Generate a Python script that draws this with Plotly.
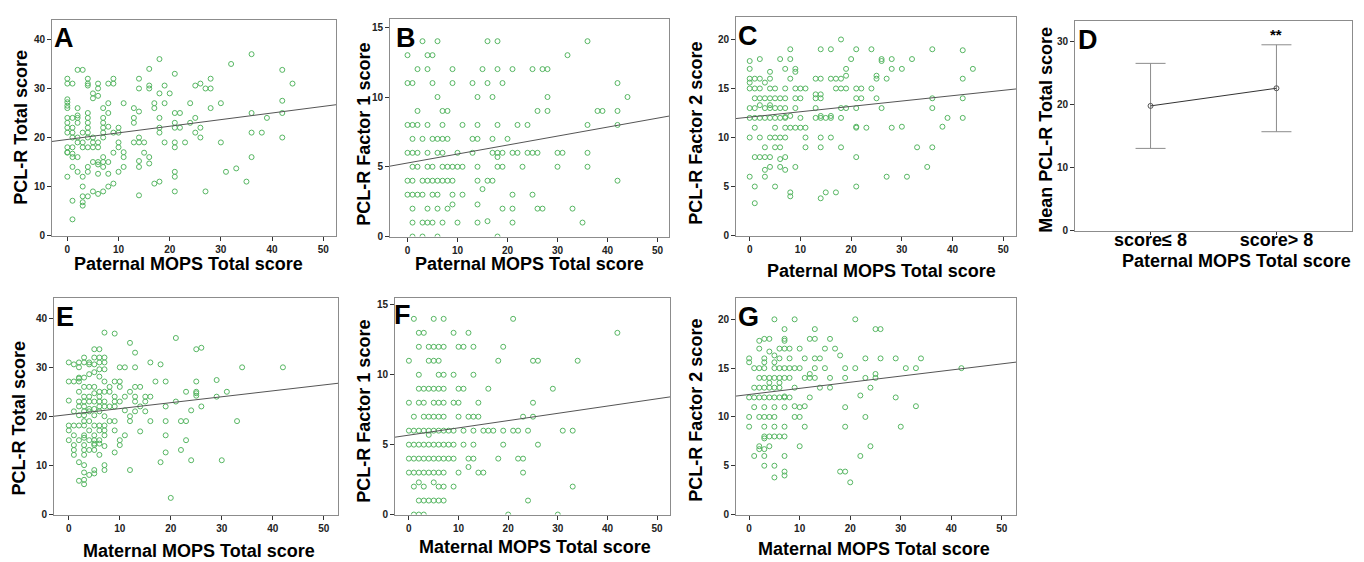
import plotly.graph_objects as go

W, H = 1364, 562
FONT = "Liberation Sans, Arial, sans-serif"

# ---------------- data ----------------
# Each panel: list of (x value, [y values at that x])
A_cols = [
    (0, [32, 31, 27.8, 27.2, 26.5, 26, 24, 23, 22, 21, 18, 17, 16.9, 12]),
    (1, [31, 24, 22, 21, 20, 18, 16.7, 16, 14, 7.1, 3.3]),
    (2, [33.8, 26, 24.5, 24, 23, 20, 19, 16, 13]),
    (3, [33.8, 21, 19, 18, 12, 10, 8, 6.8, 6.1]),
    (4, [32, 31, 30.6, 25, 24, 23, 22, 21, 20, 18, 14, 13, 8]),
    (5, [29, 28, 20, 19, 18, 15, 9]),
    (6, [31, 30, 28.5, 19, 18, 15, 14.5, 12.6, 8.5]),
    (7, [26, 24, 23, 22, 21, 20, 16, 15, 14, 9]),
    (8, [31, 27, 25, 22.2, 15, 12.6, 10]),
    (9, [32, 31, 21, 16.9, 10.6]),
    (10, [22, 21, 19, 18, 13]),
    (11, [27, 17, 16, 14]),
    (13, [26, 24, 23, 19]),
    (14, [32, 30, 25.3, 20, 19, 15.2, 14, 8.2]),
    (15, [19, 16.9]),
    (16, [34, 30.6, 30, 16, 14.7]),
    (17, [27, 26, 10.6]),
    (18, [36, 29, 24, 22, 21, 11]),
    (19, [30.6, 27, 19]),
    (20, [29]),
    (21, [33, 25, 23, 22, 19, 18, 13, 12, 9]),
    (22, [25, 22]),
    (23, [19]),
    (24, [27, 23]),
    (25, [30.6, 24, 21]),
    (26, [31, 22, 20]),
    (27, [30, 9]),
    (28, [32, 30, 26]),
    (30, [27, 19]),
    (31, [13]),
    (32, [35]),
    (33, [13.7]),
    (35, [11]),
    (36, [37, 25, 21, 16]),
    (38, [21]),
    (39, [24]),
    (42, [33.8, 27.5, 25, 20]),
    (44, [31]),
]

B_cols = [
    (0, [13, 11, 8, 6, 4, 3]),
    (1, [11, 8, 7, 6, 5, 4, 3, 2, 1, 0]),
    (2, [12, 9, 8, 6, 5, 3]),
    (3, [14, 7, 4, 3, 1, 0]),
    (4, [13, 12, 8, 6, 5, 4, 2, 1]),
    (5, [13, 11, 7, 5, 4, 3, 1]),
    (6, [14, 10, 7, 6, 4, 3, 2, 0]),
    (7, [9, 8, 7, 6, 5, 4, 1]),
    (8, [9, 7, 5, 4, 2]),
    (9, [12, 11, 5, 4, 3, 2.3]),
    (10, [6, 5, 1]),
    (11, [8, 5, 3]),
    (13, [11, 7, 6]),
    (14, [10, 8, 7, 5, 4, 2.3, 1]),
    (15, [12, 3.4]),
    (16, [14, 11, 4, 1.1]),
    (17, [10, 7, 6, 4]),
    (18, [14, 12, 8, 6, 5.7, 5, 0]),
    (19, [11, 6, 5, 2]),
    (20, [7]),
    (21, [12, 6, 3, 2, 1]),
    (22, [8, 6]),
    (23, [5]),
    (24, [8, 6]),
    (25, [12, 6, 3]),
    (26, [9, 6, 2]),
    (27, [12, 2]),
    (28, [12, 10, 9]),
    (30, [6, 5]),
    (31, [6]),
    (32, [13]),
    (33, [2]),
    (35, [1]),
    (36, [14, 8, 6, 5]),
    (38, [9]),
    (39, [9]),
    (42, [11, 9, 8, 4]),
    (44, [10]),
]

C_cols = [
    (0, [17.8, 17, 16, 15.6, 15, 13, 12, 10, 6]),
    (1, [16, 15, 14, 13, 12, 11, 8, 5, 3.3]),
    (2, [18, 16, 15, 14, 13.3, 12, 10, 8]),
    (3, [15.6, 14, 13, 12, 9, 8, 6.7, 6]),
    (4, [16.7, 16, 15, 14, 13.3, 13, 12, 10, 8, 7]),
    (5, [15, 14, 13, 12, 11, 10, 9, 5]),
    (6, [18, 14, 13, 12, 10, 9, 7.8, 7]),
    (7, [17, 15, 14, 13, 12.1, 12, 11, 10, 8, 6.7]),
    (8, [19, 18, 16, 12.2, 11, 4.4, 4]),
    (9, [17, 16.7, 15, 14, 13, 11, 7]),
    (10, [15, 14, 12, 11]),
    (11, [15, 11, 10, 9]),
    (13, [16, 14.4, 14, 13, 12]),
    (14, [19, 16, 14.4, 14, 12.2, 12, 10, 9, 3.8]),
    (15, [12, 4.4]),
    (16, [19, 16, 12.2, 12, 10]),
    (17, [16, 15, 4.4]),
    (18, [20, 16, 15, 13, 12, 9]),
    (19, [17, 16.3, 15, 13]),
    (20, [18]),
    (21, [19, 15, 14, 13, 11.1, 11, 8, 5]),
    (22, [15, 14]),
    (23, [11]),
    (24, [19, 15]),
    (25, [16.3, 16, 14]),
    (26, [18, 17.8, 13]),
    (27, [16, 6]),
    (28, [18, 17, 11]),
    (30, [17, 11.1]),
    (31, [6]),
    (32, [18]),
    (33, [9]),
    (35, [7]),
    (36, [19, 14, 13, 9]),
    (38, [11.1]),
    (39, [12]),
    (42, [18.9, 16, 14, 12]),
    (44, [17]),
]

D_groups = ["score\u2264 8", "score> 8"]
D_means = [19.8, 22.6]
D_err = [6.75, 6.9]

E_cols = [
    (0, [31.1, 27.2, 23.3, 18.2, 17.2, 15.2]),
    (1, [30.7, 27.2, 21.1, 18.2, 16.2, 14.2, 13.2, 12.2]),
    (2, [31.1, 30.1, 28, 27.8, 27.2, 25.1, 23.1, 22.1, 20.3, 18.2, 15.2, 10.7, 6.9]),
    (3, [32.1, 31.1, 28, 26.1, 24.1, 23.1, 22.1, 21.1, 20.3, 19.1, 18.2, 16.2, 15.7,
         14.2, 13.2, 12.2, 10.1, 8.6, 7.1, 6.2]),
    (4, [31.1, 30.7, 28.7, 26.1, 24.1, 23.1, 21.6, 21.1, 19.1, 17.2, 15.2, 13.2, 8.1]),
    (5, [33.8, 32.1, 30.7, 29.1, 26.1, 24.8, 23.1, 21.6, 20.3, 18.2, 16.2, 15.2, 14.5,
         14.2, 13.2, 9.1, 8.4]),
    (6, [33.8, 32.1, 31.1, 29.7, 28.2, 25.1, 24.1, 23.1, 22.1, 21.1, 18.2, 17.2, 15.2,
         14.5, 12.2]),
    (7, [37.2, 32.1, 31.1, 29.7, 27.2, 25.1, 23.1, 22.1, 20.1, 18.2, 17.2, 16.2, 14,
         10.1, 9.1]),
    (8, [26.1, 25.1, 22.1, 19.1]),
    (9, [37, 27.2, 24.1, 23.1, 22.1, 19.1, 17.2, 12.7]),
    (10, [30.1, 27.2, 26.1, 23.1, 15.2, 14.2]),
    (11, [30.1, 24.1, 21.3, 16.2]),
    (12, [35.1, 25.1, 20.1, 19.1, 9.1]),
    (13, [33.1, 30.1, 26.1, 24.1, 23.1, 21.1]),
    (14, [26.1, 22.1, 17]),
    (15, [24.1, 23.1, 21.1]),
    (16, [31.1, 24.1, 19.1]),
    (17, [27.2]),
    (18, [30.7, 10.7]),
    (19, [27.2, 22.1, 19.1, 16.2, 12.7]),
    (20, [3.4]),
    (21, [36.1, 23.1]),
    (22, [19.1, 13.2]),
    (23, [25.1, 19.1, 15.2]),
    (24, [21.3, 11.1]),
    (25, [33.8, 27.2, 25.1, 24.8, 24.3]),
    (26, [34.1, 22.1]),
    (29, [27.5, 24.1]),
    (30, [11.1]),
    (31, [25.1]),
    (33, [19.1]),
    (34, [30.1]),
    (42, [30.1]),
]

F_cols = [
    (0, [11, 8, 6, 5, 4, 3]),
    (1, [14, 7, 6, 5, 4, 3, 2, 0]),
    (2, [13, 12, 10, 9, 8, 6, 5, 4, 3, 2.3, 1, 0]),
    (3, [13, 9, 8, 7, 6, 5, 4, 3, 2, 1, 0]),
    (4, [12, 11, 9, 7, 6, 5.7, 5, 4, 3, 1]),
    (5, [14, 12, 11, 9, 8, 7, 6, 5, 4, 3, 2.3, 1]),
    (6, [12, 11, 10, 9, 8, 7, 6, 5, 4, 3, 2, 1]),
    (7, [14, 12, 10, 9, 8, 7, 6, 5, 4, 3, 2, 1]),
    (8, [6, 5, 4]),
    (9, [13, 10, 8, 6, 5, 4, 2]),
    (10, [12, 9, 8, 7, 3]),
    (11, [12, 9, 6, 5]),
    (12, [13, 7, 4, 3.4]),
    (13, [12, 10, 7, 6, 5, 4]),
    (14, [8, 7, 3]),
    (15, [6, 3]),
    (16, [9, 6]),
    (17, [6]),
    (18, [11, 4]),
    (19, [12, 6, 5]),
    (20, [0]),
    (21, [14, 6]),
    (22, [6, 4]),
    (23, [7, 4, 3]),
    (24, [6, 1]),
    (25, [11, 8, 7]),
    (26, [11, 5]),
    (29, [9]),
    (30, [0]),
    (31, [6]),
    (33, [6, 2]),
    (34, [11]),
    (42, [13]),
]

G_cols = [
    (0, [16, 15.6, 12, 10, 9]),
    (1, [15, 13, 12, 11, 6]),
    (2, [17.8, 17, 15, 14, 13, 12, 10, 7, 6.7]),
    (3, [18, 16, 15.6, 15, 14, 13, 12, 11, 10, 9, 8, 7.8, 6.7, 6, 5]),
    (4, [18, 16.7, 14, 13.5, 13, 12, 10, 8, 7]),
    (5, [20, 16.3, 15.6, 15, 14, 13, 12, 11, 10, 9, 8, 5, 3.8]),
    (6, [17, 16, 15, 14, 13.5, 13, 12, 8]),
    (7, [19, 18, 17.8, 17, 15, 14, 12.1, 12, 11, 9, 8, 6, 4.4, 4]),
    (8, [17, 16, 15, 14, 12]),
    (9, [20, 15, 13, 11.1, 10]),
    (10, [17, 15, 11, 10, 7]),
    (11, [16, 14, 11.1, 9]),
    (12, [18, 14.4, 14, 12]),
    (13, [19, 18, 16, 15, 14]),
    (14, [16, 13]),
    (15, [17, 15]),
    (16, [18, 14, 13]),
    (17, [17]),
    (18, [16.3, 4.4]),
    (19, [15, 14, 11, 9, 4.4]),
    (20, [3.3]),
    (21, [20, 15]),
    (22, [12.2, 6]),
    (23, [16, 14, 10]),
    (24, [13, 7]),
    (25, [19, 14.4, 14]),
    (26, [19, 16]),
    (29, [16, 12]),
    (30, [9]),
    (31, [15]),
    (33, [15, 11.1]),
    (34, [16]),
    (42, [15]),
]

# regression lines (intercept, slope)
A_fit = (19.6, 0.135)
B_fit = (5.27, 0.0643)
C_fit = (12.08, 0.0547)
E_fit = (20.45, 0.121)
F_fit = (5.68, 0.052)
G_fit = (12.3, 0.0628)

X_TICKS = [0, 10, 20, 30, 40, 50]


# ---------------- helpers ----------------
def px(x):
    return x / W


def py(y):
    return 1 - y / H


def expand(cols):
    xs, ys = [], []
    for xv, yl in cols:
        for yv in yl:
            xs.append(xv)
            ys.append(yv)
    return xs, ys


axis_common = dict(
    showline=True, mirror=True, linecolor="#8c8c8c", linewidth=1,
    ticks="outside", ticklen=4, tickwidth=1, tickcolor="#333333",
    showgrid=False, zeroline=False, fixedrange=True,
    tickfont=dict(family=FONT, size=10, color="#222222", weight="bold"),
)

fig = go.Figure()
annotations = []
layout_axes = {}

# offsets that turn "visual" text centres into annotation box centres
TY = -3   # horizontal titles: move up
TX = -3   # vertical titles: move left
LX, LY = -8, -5  # panel letters

panels = [
    (1, A_cols, A_fit, (44, 328), (12, 230), [-3, 52.5], [0, 44], [0, 10, 20, 30, 40],
     "Paternal MOPS Total score", (180, 262), "PCL-R Total score", (16, 121), "A", (52, 35)),
    (2, B_cols, B_fit, (382, 661), (11, 231), [-3.5, 52.3], [0, 15.6], [0, 5, 10, 15],
     "Paternal MOPS Total score", (521, 262), "PCL-R Factor 1 score", (359, 128), "B", (394, 35)),
    (3, C_cols, C_fit, (728, 1008), (9, 230), [-2.7, 52.5], [0, 22.3], [0, 5, 10, 15, 20],
     "Paternal MOPS Total score", (873, 269), "PCL-R Factor 2 score", (691, 127), "C", (736, 33)),
    (5, E_cols, E_fit, (46, 330), (293, 512), [-2.9, 52.8], [0, 44.3], [0, 10, 20, 30, 40],
     "Maternal MOPS Total score", (191, 552), "PCL-R Total score", (14, 415), "E", (54, 317)),
    (6, F_cols, F_fit, (387, 662), (293, 512), [-2.8, 52.6], [0, 15.5], [0, 5, 10, 15],
     "Maternal MOPS Total score", (527, 548), "PCL-R Factor 1 score", (359, 408), "F", (392, 315)),
    (7, G_cols, G_fit, (728, 1008), (293, 512), [-2.6, 52.8], [0, 22.2], [0, 5, 10, 15, 20],
     "Maternal MOPS Total score", (866, 550), "PCL-R Factor 2 score", (691, 407), "G", (736, 317)),
]


def add_labels(xtitle, xpos, ytitle, ypos, letter, lpos):
    annotations.append(dict(
        text="<b>%s</b>" % xtitle, x=px(xpos[0]), y=py(xpos[1] + TY), xref="paper", yref="paper",
        xanchor="center", yanchor="middle", showarrow=False,
        font=dict(family=FONT, size=18, color="#000000")))
    annotations.append(dict(
        text="<b>%s</b>" % ytitle, x=px(ypos[0] + TX), y=py(ypos[1]), xref="paper", yref="paper",
        xanchor="center", yanchor="middle", showarrow=False, textangle=-90,
        font=dict(family=FONT, size=18, color="#000000")))
    annotations.append(dict(
        text="<b>%s</b>" % letter, x=px(lpos[0] + LX), y=py(lpos[1] + LY), xref="paper", yref="paper",
        xanchor="left", yanchor="middle", showarrow=False,
        font=dict(family=FONT, size=27, color="#000000")))


for (pid, cols, fit, xd, yd, xr, yr, yt, xtitle, xpos, ytitle, ypos, letter, lpos) in panels:
    xa = "x" if pid == 1 else "x%d" % pid
    ya = "y" if pid == 1 else "y%d" % pid
    xs, ys = expand(cols)
    fig.add_trace(go.Scatter(
        x=xs, y=ys, mode="markers", xaxis=xa, yaxis=ya, showlegend=False,
        marker=dict(symbol="circle-open", size=5, color="#56b662", line=dict(width=1)),
        hoverinfo="x+y"))
    a, b = fit
    fig.add_trace(go.Scatter(
        x=[xr[0], xr[1]], y=[a + b * xr[0], a + b * xr[1]], mode="lines",
        xaxis=xa, yaxis=ya, showlegend=False,
        line=dict(color="#555555", width=1), hoverinfo="skip"))
    key = "" if pid == 1 else str(pid)
    layout_axes["xaxis" + key] = dict(
        axis_common, domain=[px(xd[0]), px(xd[1])], range=xr, anchor=ya,
        tickmode="array", tickvals=X_TICKS)
    layout_axes["yaxis" + key] = dict(
        axis_common, domain=[py(yd[1]), py(yd[0])], range=yr, anchor=xa,
        tickmode="array", tickvals=yt)
    add_labels(xtitle, xpos, ytitle, ypos, letter, lpos)

# Panel D: means with error bars
fig.add_trace(go.Scatter(
    x=[0, 1], y=D_means, mode="lines+markers", xaxis="x4", yaxis="y4", showlegend=False,
    line=dict(color="#333333", width=1),
    marker=dict(symbol="circle-open", size=5, color="#555555", line=dict(width=1)),
    error_y=dict(type="data", array=D_err, color="#8c8c8c", thickness=1, width=15)))
layout_axes["xaxis4"] = dict(
    axis_common, domain=[px(1067), px(1344)], range=[-0.6, 1.6], anchor="y4",
    tickmode="array", tickvals=[0, 1], ticktext=D_groups, ticklen=3,
    ticklabelstandoff=-10,
    tickfont=dict(family=FONT, size=18, color="#000000", weight="bold"))
layout_axes["yaxis4"] = dict(
    axis_common, domain=[py(225), py(13)], range=[0, 33.3], anchor="x4",
    tickmode="array", tickvals=[0, 10, 20, 30])
add_labels("Paternal MOPS Total score", (1228, 259), "Mean PCL-R Total score", (1041, 123),
           "D", (1076, 37))
annotations.append(dict(
    text="<b>**</b>", x=1, y=D_means[1] + D_err[1] + 1.6, xref="x4", yref="y4",
    xanchor="center", yanchor="middle", showarrow=False,
    font=dict(family=FONT, size=15, color="#000000")))

fig.update_layout(
    width=W, height=H, margin=dict(l=0, r=0, t=0, b=0),
    paper_bgcolor="white", plot_bgcolor="white",
    annotations=annotations, showlegend=False,
    font=dict(family=FONT),
    **layout_axes)

fig.write_html("out.html")
